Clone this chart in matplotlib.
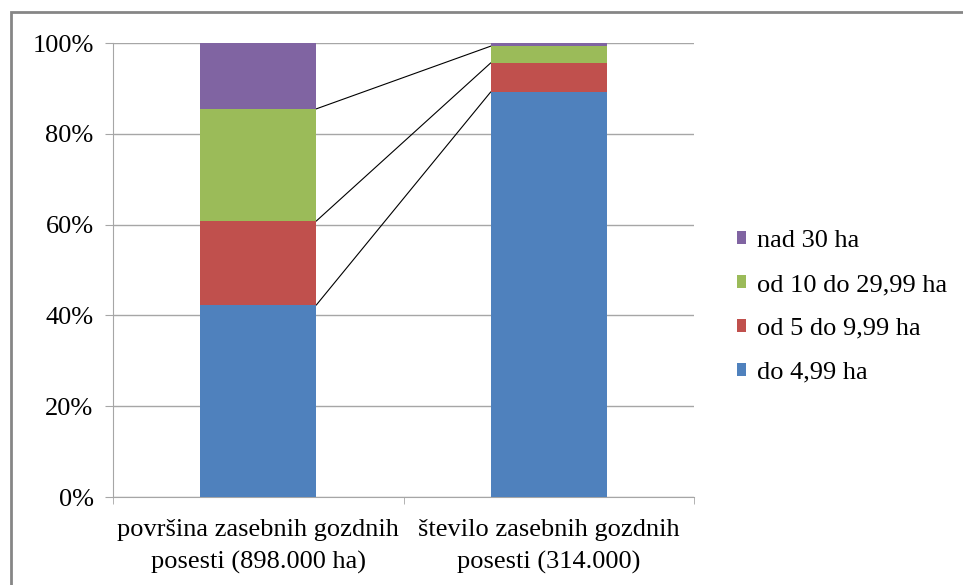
import matplotlib
matplotlib.use("Agg")
import matplotlib.pyplot as plt
from matplotlib.patches import Rectangle

# data (percent of each bar)
categories = ["površina zasebnih gozdnih\nposesti (898.000 ha)",
              "število zasebnih gozdnih\nposesti (314.000)"]
series_names = ["do 4,99 ha", "od 5 do 9,99 ha", "od 10 do 29,99 ha", "nad 30 ha"]
do_5 = [42.3, 89.2]
od_5_10 = [18.5, 6.4]
od_10_30 = [24.7, 3.7]
nad_30 = [14.5, 0.7]
colors = ["#4F81BD", "#C0504D", "#9BBB59", "#8064A2"]

plt.rcParams["font.family"] = ["Liberation Serif", "DejaVu Serif"]
fs = 19

fig = plt.figure(figsize=(9.63, 5.85), dpi=100)
ax = fig.add_axes([113 / 963, 1 - 497 / 585, (694 - 113) / 963, (497 - 43) / 585])

x = [0, 1]
width = 0.4
bottoms = [0, 0]
tops = []
handles = []
for name, vals, c in zip(series_names, [do_5, od_5_10, od_10_30, nad_30], colors):
    b = ax.bar(x, vals, width, bottom=bottoms, color=c, label=name, zorder=3)
    handles.append(b)
    bottoms = [bo + v for bo, v in zip(bottoms, vals)]
    tops.append(list(bottoms))

# series lines between the two stacks (the top one lies on the 100% grid line)
for t in tops[:-1]:
    ax.plot([x[0] + width / 2, x[1] - width / 2], t, color="black", lw=0.8, zorder=2)

ax.set_xlim(-0.5, 1.5)
ax.set_ylim(0, 100)
ax.set_yticks(range(0, 101, 20))
ax.set_yticklabels([f"{v}%" for v in range(0, 101, 20)], fontsize=fs)
ax.yaxis.grid(True, color="#A6A6A6", lw=1, zorder=0)

ax.set_xticks(x)
ax.set_xticklabels(categories, fontsize=fs, linespacing=1.55)
ax.tick_params(axis="x", length=0, pad=16)
ax.set_xticks([-0.5, 0.5, 1.5], minor=True)
ax.tick_params(axis="x", which="minor", length=5, color="#A6A6A6")
ax.tick_params(axis="y", length=6, color="#A6A6A6", pad=8)

for s in ["top", "right"]:
    ax.spines[s].set_visible(False)
for s in ["left", "bottom"]:
    ax.spines[s].set_color("#A6A6A6")

leg = fig.legend(handles[::-1], series_names[::-1], loc="center left",
                 bbox_to_anchor=(713 / 963, 1 - 307 / 585), frameon=False,
                 fontsize=fs, handlelength=0.35, handleheight=0.35,
                 handletextpad=0.4, labelspacing=0.83)

# chart area border
fig.patches.append(Rectangle((11 / 963, -0.1), 1.2, 1 - 12 / 585 + 0.1,
                             transform=fig.transFigure, fill=False,
                             edgecolor="#868686", lw=2))

fig.savefig("out.png", dpi=100)
